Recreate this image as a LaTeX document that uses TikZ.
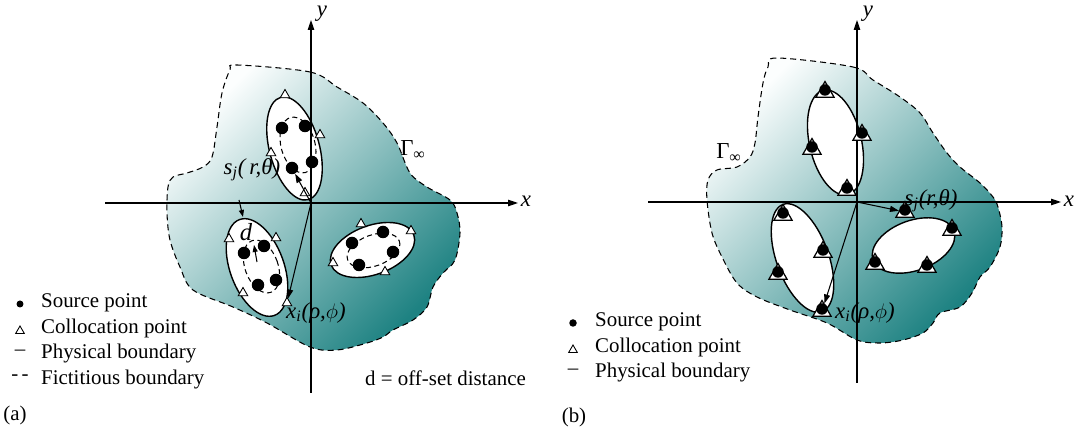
\documentclass[tikz,border=0pt]{standalone}
\usepackage{fontspec}
\setmainfont{Liberation Serif}
\usepackage{tikz}
\usetikzlibrary{arrows.meta,shapes.geometric}

\definecolor{seateal}{RGB}{30,130,130}
\definecolor{seapale}{RGB}{252,254,254}

\begin{document}
\begin{tikzpicture}[x=0.02cm,y=-0.02cm,
   font=\fontsize{11.9}{14}\selectfont,
   axis/.style={line width=0.6pt,-{Triangle[length=0.2cm,width=0.13cm]}},
   region/.style={draw=black,line width=0.6pt,dash pattern=on 0.12cm off 0.08cm,
     top color=seapale,bottom color=seateal,shading angle=45},
   phys/.style={draw=black,fill=white,line width=0.8pt},
   fict/.style={draw=black,line width=0.6pt,dash pattern=on 0.1cm off 0.07cm},
   src/.style={circle,fill=black,minimum size=0.25cm,inner sep=0pt},
   col/.style={regular polygon,regular polygon sides=3,draw=black,fill=white,
     line width=0.5pt,minimum size=0.22cm,inner sep=0pt},
   bsrc/.style={circle,fill=black,minimum size=0.23cm,inner sep=0pt},
   bcol/.style={regular polygon,regular polygon sides=3,draw=black,fill=white,
     line width=0.7pt,minimum size=0.42cm,inner sep=0pt},
   ptr/.style={line width=0.6pt,-{Triangle[length=0.18cm,width=0.12cm]}},
   lab/.style={font=\fontsize{13}{15}\selectfont}]
  \useasboundingbox (0,0) rectangle (1076,431);

  % (a) domain with fictitious boundaries
  \draw[region] plot[smooth cycle,tension=0.55] coordinates {
    (237,65) (310,72) (337,87) (363,103) (383,123) (397,143) (410,173)
    (427,187) (450,200) (457,213) (460,233) (455,260) (443,273) (433,287)
    (427,307) (413,320) (393,330) (383,337) (367,343) (337,350) (310,347)
    (267,323) (233,307) (193,290) (180,267) (170,240) (167,213) (168,187)
    (173,177) (187,173) (203,167) (212,157) (217,127) (222,93) (230,70)};
  \draw[phys,rotate around={15:(294.5,148.5)}] (294.5,148.5) ellipse [x radius=25,y radius=53];
  \draw[phys,rotate around={20:(257,267.5)}] (257,267.5) ellipse [x radius=27,y radius=51];
  \draw[phys,rotate around={20:(372.5,250)}] (372.5,250) ellipse [x radius=44,y radius=24.5];
  \draw[fict,rotate around={15:(298,145)}] (298,145) ellipse [x radius=17,y radius=28.5];
  \draw[fict,rotate around={20:(261.5,266.5)}] (261.5,266.5) ellipse [x radius=16.5,y radius=27.5];
  \draw[fict,rotate around={20:(373.5,250.5)}] (373.5,250.5) ellipse [x radius=27.5,y radius=15.5];

  % (a) axes
  \coordinate (oa) at (311,203);
  \coordinate (axl) at (105,203); \coordinate (axr) at (518,203);
  \coordinate (ayb) at (311,393); \coordinate (ayt) at (311,20);
  \draw[axis] (axl) -- (axr);
  \draw[axis] (ayb) -- (ayt);
  \node[lab,font=\fontsize{13}{15}\itshape] (xa) at (526,201) {x};
  \node[lab,font=\fontsize{13}{15}\itshape] (ya) at (322,14) {y};

  % (a) source points
  \node[src] (a1s1) at (282,128) {}; \node[src] (a1s2) at (305,126) {};
  \node[src] (a1s3) at (312,162) {}; \node[src] (a1s4) at (292,168) {};
  \node[src] (a2s1) at (244,253) {}; \node[src] (a2s2) at (264,246) {};
  \node[src] (a2s3) at (276,280) {}; \node[src] (a2s4) at (258,285) {};
  \node[src] (a3s1) at (352,243) {}; \node[src] (a3s2) at (383,232) {};
  \node[src] (a3s3) at (393,252) {}; \node[src] (a3s4) at (359,265) {};
  % (a) collocation points
  \node[col] (a1c1) at (285,95) {};  \node[col] (a1c2) at (320,135) {};
  \node[col] (a1c3) at (271,153) {}; \node[col] (a1c4) at (305,193) {};
  \node[col] (a2c1) at (229,239) {}; \node[col] (a2c2) at (276,238) {};
  \node[col] (a2c3) at (243,293) {}; \node[col] (a2c4) at (287,303) {};
  \node[col] (a3c1) at (361,224) {}; \node[col] (a3c2) at (411,231) {};
  \node[col] (a3c3) at (333,263) {}; \node[col] (a3c4) at (385,272) {};

  % (a) position vectors and offset
  \draw[ptr] (oa) -- (a1s4);
  \draw[ptr] (oa) -- (a2c4);
  \coordinate (dt) at (239,200); \coordinate (dh) at (243,217);
  \draw[ptr,-{Triangle[length=0.14cm,width=0.1cm]}] (dt) -- (dh);
  \coordinate (it) at (257,262); \coordinate (ih) at (254,245);
  \draw[ptr,-{Triangle[length=0.14cm,width=0.1cm]}] (it) -- (ih);
  \node[lab] (sja) at (252,170) {\textit{s}\textsubscript{\textit{j}}\textit{(\,r,θ)}};
  \node[lab] (xia) at (316,313) {\textit{x}\textsubscript{\textit{i}}\textit{(ρ,}$\phi$\textit{)}};
  \node[lab,font=\fontsize{14}{16}\itshape] (da) at (246,232) {d};
  \node[lab] (ga) at (413,150) {Γ\textsubscript{∞}};

  % (a) legend
  \node[circle,fill=black,minimum size=0.14cm,inner sep=0pt] (la1) at (20,304) {};
  \node[col,minimum size=0.2cm] (la2) at (20,331) {};
  \node (la3) at (20,353) {–};
  \node (la4) at (20,378) {-\,-};
  \node[anchor=west] (ta1) at (35,303) {Source point};
  \node[anchor=west] (ta2) at (35,328) {Collocation point};
  \node[anchor=west] (ta3) at (35,354) {Physical boundary};
  \node[anchor=west] (ta4) at (35,380) {Fictitious boundary};
  \node[anchor=west] (doff) at (359,378) {d = off-set distance};
  \node (capa) at (15,415) {(a)};

  % (b) domain
  \draw[region] plot[smooth cycle,tension=0.55] coordinates {
    (777,58) (853,67) (873,80) (900,97) (920,113) (933,133) (947,153)
    (960,167) (980,183) (993,197) (998,207) (1002,227) (1000,247) (990,267)
    (980,277) (972,293) (960,307) (940,313) (933,323) (923,333) (903,340)
    (880,343) (857,340) (827,323) (790,310) (757,297) (737,283) (722,257)
    (712,233) (707,200) (708,180) (717,170) (737,167) (750,157) (755,143)
    (758,117) (763,83) (768,67)};
  \draw[phys,rotate around={13:(835.5,142.5)}] (835.5,142.5) ellipse [x radius=26,y radius=53.5];
  \draw[phys,rotate around={20:(802.5,258)}] (802.5,258) ellipse [x radius=26,y radius=57];
  \draw[phys,rotate around={20:(913.5,245.5)}] (913.5,245.5) ellipse [x radius=43,y radius=25];

  % (b) axes
  \coordinate (ob) at (857,202);
  \coordinate (bxl) at (648,202); \coordinate (bxr) at (1061,202);
  \coordinate (byb) at (857,383); \coordinate (byt) at (857,20);
  \draw[axis] (bxl) -- (bxr);
  \draw[axis] (byb) -- (byt);
  \node[lab,font=\fontsize{13}{15}\itshape] (xb) at (1069,201) {x};
  \node[lab,font=\fontsize{13}{15}\itshape] (yb) at (868,14) {y};

  % (b) collocation points with sources on the boundary
  \node[bcol] (b1c1) at (825,92) {};  \node[bcol] (b1c2) at (862,135) {};
  \node[bcol] (b1c3) at (812,149) {}; \node[bcol] (b1c4) at (847,190) {};
  \node[bcol] (b2c1) at (783,215) {}; \node[bcol] (b2c2) at (823,252) {};
  \node[bcol] (b2c3) at (778,274) {}; \node[bcol] (b2c4) at (822,311) {};
  \node[bcol] (b3c1) at (905,212) {}; \node[bcol] (b3c2) at (952,230) {};
  \node[bcol] (b3c3) at (875,264) {}; \node[bcol] (b3c4) at (927,267) {};
  \node[bsrc] (b1s1) at ([yshift=0.04cm]b1c1) {}; \node[bsrc] (b1s2) at ([yshift=0.04cm]b1c2) {};
  \node[bsrc] (b1s3) at ([yshift=0.04cm]b1c3) {}; \node[bsrc] (b1s4) at ([yshift=0.04cm]b1c4) {};
  \node[bsrc] (b2s1) at ([yshift=0.04cm]b2c1) {}; \node[bsrc] (b2s2) at ([yshift=0.04cm]b2c2) {};
  \node[bsrc] (b2s3) at ([yshift=0.04cm]b2c3) {}; \node[bsrc] (b2s4) at ([yshift=0.04cm]b2c4) {};
  \node[bsrc] (b3s1) at ([yshift=0.04cm]b3c1) {}; \node[bsrc] (b3s2) at ([yshift=0.04cm]b3c2) {};
  \node[bsrc] (b3s3) at ([yshift=0.04cm]b3c3) {}; \node[bsrc] (b3s4) at ([yshift=0.04cm]b3c4) {};

  % (b) position vectors
  \draw[ptr] (ob) -- (b3c1);
  \draw[ptr] (ob) -- (b2c4);
  \node[lab] (sjb) at (931,201) {\textit{s}\textsubscript{\textit{j}}\textit{(r,θ)}};
  \node[lab] (xib) at (865,313) {\textit{x}\textsubscript{\textit{i}}\textit{(ρ,}$\phi$\textit{)}};
  \node[lab] (gb) at (729,153) {Γ\textsubscript{∞}};

  % (b) legend
  \node[circle,fill=black,minimum size=0.15cm,inner sep=0pt] (lb1) at (573,323) {};
  \node[col,minimum size=0.2cm] (lb2) at (573,350) {};
  \node (lb3) at (573,372) {–};
  \node[anchor=west] (tb1) at (589,322) {Source point};
  \node[anchor=west] (tb2) at (589,347) {Collocation point};
  \node[anchor=west] (tb3) at (589,373) {Physical boundary};
  \node (capb) at (574,417) {(b)};
\end{tikzpicture}
\end{document}
